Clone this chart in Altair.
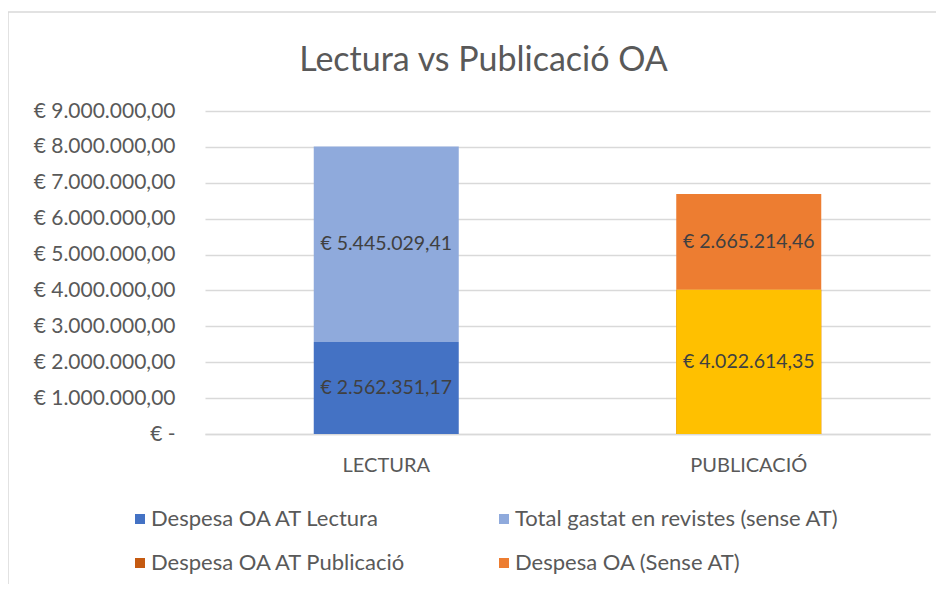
import altair as alt
import pandas as pd

categories = ["LECTURA", "LECTURA", "PUBLICACIÓ", "PUBLICACIÓ"]
series = [
    "Despesa OA AT Lectura",
    "Total gastat en revistes (sense AT)",
    "Despesa OA AT Publicació",
    "Despesa OA (Sense AT)",
]
values = [2562351.17, 5445029.41, 4022614.35, 2665214.46]
stack_order = [0, 1, 0, 1]
legend_colors = ["#4472C4", "#8FAADC", "#C55A11", "#ED7D31"]
yellow_series = "Despesa OA AT Publicació"
yellow_color = "#FFC000"
y_ticks = [0, 1000000, 2000000, 3000000, 4000000, 5000000, 6000000, 7000000, 8000000, 9000000]

df = pd.DataFrame({"cat": categories, "series": series, "value": values, "ord": stack_order})

FONT = "Lato"
GREY = "#595959"

x_enc = alt.X(
    "cat:N",
    sort=["LECTURA", "PUBLICACIÓ"],
    scale=alt.Scale(paddingInner=0.6, paddingOuter=0.3),
    axis=alt.Axis(
        title=None, labelAngle=0, ticks=False, domainColor="#D9D9D9", domainWidth=1.5,
        labelFont=FONT, labelFontSize=20, labelColor=GREY, labelPadding=21,
    ),
)

y_scale = alt.Scale(domain=[0, 9000000], nice=False, zero=True)


def y_axis():
    return alt.Axis(
        title=None, values=y_ticks, tickCount=10, format="$,.2f",
        labelExpr="datum.value == 0 ? '€ -\u2002' : datum.label",
        domain=False, ticks=False, grid=True, gridColor="#D9D9D9", gridWidth=1.5,
        labelFont=FONT, labelFontSize=21, labelColor=GREY, labelPadding=30,
        labelOverlap=False,
    )


bars = alt.Chart(df).mark_bar().encode(
    x=x_enc,
    y=alt.Y("value:Q", stack="zero", scale=y_scale, axis=y_axis()),
    color=alt.Color(
        "series:N",
        scale=alt.Scale(domain=series, range=legend_colors),
        legend=alt.Legend(
            title=None, orient="none", direction="horizontal", legendX=-76, legendY=397, columns=2,
            symbolType="square", symbolSize=100, symbolStrokeWidth=0, symbolOpacity=1,
            labelFont=FONT, labelFontSize=22, labelColor=GREY, labelOffset=0,
            rowPadding=22, columnPadding=86, gridAlign="each", labelLimit=450,
        ),
    ),
    order=alt.Order("ord:Q", sort="ascending"),
)

yellow = alt.Chart(df).transform_filter(
    alt.datum.series == yellow_series
).mark_bar(color=yellow_color).encode(
    x=x_enc,
    y=alt.Y("value:Q", stack=None, scale=y_scale, axis=y_axis()),
)

labels = alt.Chart(df).transform_stack(
    stack="value", groupby=["cat"], as_=["y0", "y1"], sort=[alt.SortField("ord", order="ascending")]
).transform_calculate(
    mid="(datum.y0 + datum.y1) / 2"
).mark_text(font=FONT, fontSize=19.5, color="#404040").encode(
    x=x_enc,
    y=alt.Y("mid:Q", scale=y_scale, axis=y_axis()),
    text=alt.Text("value:Q", format="$,.2f"),
)

border_df = pd.DataFrame({"k": [0]})
left_border = alt.Chart(border_df).mark_rule(color="#D9D9D9", strokeWidth=1.5).encode(
    x=alt.value(-197), y=alt.value(-99), y2=alt.value(480)
)
top_border = alt.Chart(border_df).mark_rule(color="#D9D9D9", strokeWidth=1.5).encode(
    x=alt.value(-197), x2=alt.value(740), y=alt.value(-99)
)

chart = alt.layer(left_border, top_border, bars, yellow, labels).properties(
    width=725,
    height=323,
    autosize=alt.AutoSizeParams(type="none"),
    padding={"left": 197, "top": 103, "right": 6, "bottom": 150},
    title=alt.Title(
        "Lectura vs Publicació OA", font=FONT, fontSize=34, fontWeight="normal",
        color=GREY, anchor="middle", dx=-84, offset=-67,
    ),
).configure(
    locale={"number": {"decimal": ",", "thousands": ".", "grouping": [3], "currency": ["€ ", ""]}}
).configure_view(stroke=None)

chart.save("out.html", embed_options={"renderer": "svg", "actions": False})
